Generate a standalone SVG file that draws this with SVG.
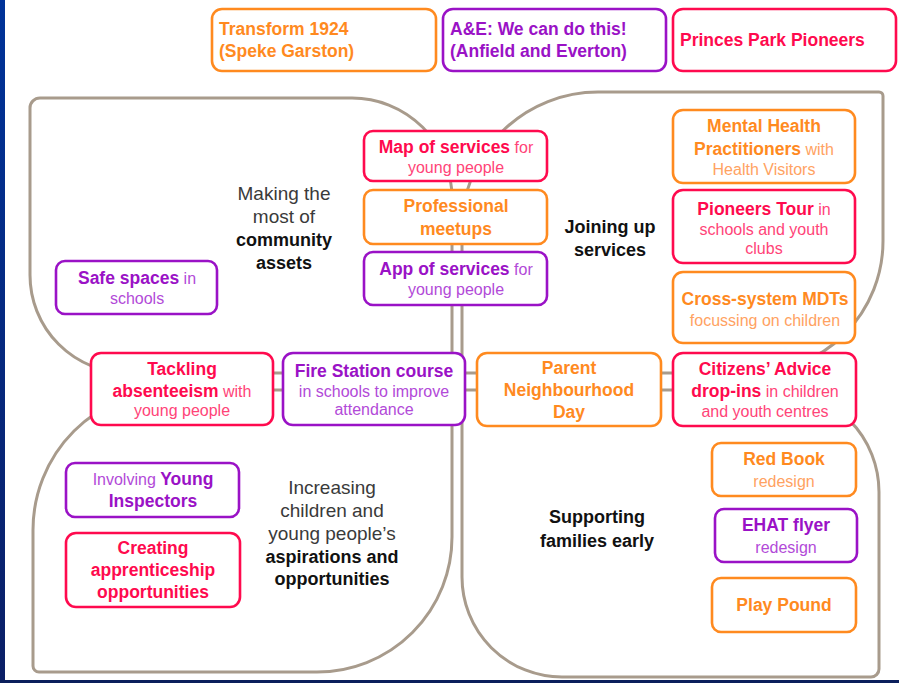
<svg xmlns="http://www.w3.org/2000/svg" width="899" height="683" viewBox="0 0 899 683">
<defs>
<linearGradient id="blueBar" x1="0" y1="0" x2="0" y2="1">
<stop offset="0" stop-color="#003399"/>
<stop offset="1" stop-color="#0b1f66"/>
</linearGradient>
</defs>
<style>
text{font-family:"Liberation Sans",Arial,sans-serif;}
.quad{fill:#ffffff;stroke:#a89b8c;stroke-width:3;}
.box{fill:#ffffff;stroke-width:2.6;}
.bo{stroke:#ff8a1f;} .br{stroke:#ff0a4e;} .bp{stroke:#9a12c6;}
.b{font-weight:bold;font-size:17.5px;}
.l{font-weight:normal;font-size:16px;}
.to{fill:#ff8a1f;} .tol{fill:#ffa262;}
.tr{fill:#ff0a4e;} .trl{fill:#ff4478;}
.tp{fill:#9a12c6;} .tpl{fill:#b24ad8;}
.c{text-anchor:middle;}
.lab{font-size:19px;fill:#3a3a3a;text-anchor:middle;}
.labb{font-size:18px;font-weight:bold;fill:#111111;text-anchor:middle;}
</style>
<rect x="0" y="0" width="899" height="683" fill="#ffffff"/>
<rect x="0" y="0" width="5" height="683" fill="url(#blueBar)"/>
<rect x="0" y="680" width="899" height="3" fill="#0b1f5c"/>

<g id="connectors">
<path id="quad-tl" class="quad" d="M 40 98 H 352 A 100 100 0 0 1 452 198 V 373 H 128 A 98 98 0 0 1 30 275 V 108 A 10 10 0 0 1 40 98 Z"/>
<path id="quad-tr" class="quad" d="M 598 92 H 879 A 4 4 0 0 1 883 96 V 241 A 132 132 0 0 1 751 373 H 462 V 228 A 136 136 0 0 1 598 92 Z"/>
<path id="quad-bl" class="quad" d="M 173 390 H 452 V 537 A 135 135 0 0 1 317 672 H 39 A 6 6 0 0 1 33 666 V 530 A 140 140 0 0 1 173 390 Z"/>
<path id="quad-br" class="quad" d="M 462 390 H 777 A 102 102 0 0 1 879 492 V 669 A 8 8 0 0 1 871 677 H 562 A 100 100 0 0 1 462 577 Z"/>
</g>

<g id="label-community">
<text class="lab" x="284" y="200">Making the</text>
<text class="lab" x="284" y="223">most of</text>
<text class="labb" x="284" y="246">community</text>
<text class="labb" x="284" y="269">assets</text>
</g>
<g id="label-joining">
<text class="labb" x="610" y="233">Joining up</text>
<text class="labb" x="610" y="256">services</text>
</g>
<g id="label-aspirations">
<text class="lab" x="332" y="494">Increasing</text>
<text class="lab" x="332" y="517">children and</text>
<text class="lab" x="332" y="540">young people’s</text>
<text class="labb" x="332" y="563">aspirations and</text>
<text class="labb" x="332" y="585">opportunities</text>
</g>
<g id="label-supporting">
<text class="labb" x="597" y="523">Supporting</text>
<text class="labb" x="597" y="547">families early</text>
</g>

<g id="transform-1924">
<rect class="box bo" x="212" y="9" width="224" height="62" rx="10"/>
<text class="b to" x="219" y="35">Transform 1924</text>
<text class="b to" x="219" y="57">(Speke Garston)</text>
</g>
<g id="ae-we-can-do-this">
<rect class="box bp" x="443" y="9" width="223" height="62" rx="10"/>
<text class="b tp" x="450" y="35">A&amp;E: We can do this!</text>
<text class="b tp" x="450" y="57">(Anfield and Everton)</text>
</g>
<g id="princes-park">
<rect class="box br" x="673" y="9" width="223" height="62" rx="10"/>
<text class="b tr" x="680" y="46">Princes Park Pioneers</text>
</g>

<g id="safe-spaces">
<rect class="box bp" x="56" y="261" width="161" height="53" rx="9"/>
<text class="c" x="137" y="284"><tspan class="b tp">Safe spaces</tspan><tspan class="l tpl"> in</tspan></text>
<text class="c l tpl" x="137" y="304">schools</text>
</g>

<g id="map-of-services">
<rect class="box br" x="364" y="131" width="183" height="50" rx="9"/>
<text class="c" x="456" y="153"><tspan class="b tr">Map of services</tspan><tspan class="l trl"> for</tspan></text>
<text class="c l trl" x="456" y="173">young people</text>
</g>
<g id="professional-meetups">
<rect class="box bo" x="364" y="190" width="183" height="54" rx="9"/>
<text class="c b to" x="456" y="212">Professional</text>
<text class="c b to" x="456" y="235">meetups</text>
</g>
<g id="app-of-services">
<rect class="box bp" x="364" y="252" width="183" height="53" rx="9"/>
<text class="c" x="456" y="275"><tspan class="b tp">App of services</tspan><tspan class="l tpl"> for</tspan></text>
<text class="c l tpl" x="456" y="295">young people</text>
</g>

<g id="mental-health">
<rect class="box bo" x="673" y="110" width="182" height="73" rx="10"/>
<text class="c b to" x="764" y="132">Mental Health</text>
<text class="c" x="764" y="155"><tspan class="b to">Practitioners</tspan><tspan class="l tol"> with</tspan></text>
<text class="c l tol" x="764" y="175">Health Visitors</text>
</g>
<g id="pioneers-tour">
<rect class="box br" x="673" y="190" width="182" height="73" rx="10"/>
<text class="c" x="764" y="215"><tspan class="b tr">Pioneers Tour</tspan><tspan class="l trl"> in</tspan></text>
<text class="c l trl" x="764" y="235">schools and youth</text>
<text class="c l trl" x="764" y="254">clubs</text>
</g>
<g id="cross-system">
<rect class="box bo" x="673" y="272" width="182" height="71" rx="10"/>
<text class="c b to" x="765" y="305">Cross-system MDTs</text>
<text class="c l tol" x="765" y="326">focussing on children</text>
</g>

<g id="tackling-absenteeism">
<rect class="box br" x="91" y="353" width="182" height="72" rx="10"/>
<text class="c b tr" x="182" y="375">Tackling</text>
<text class="c" x="182" y="397"><tspan class="b tr">absenteeism</tspan><tspan class="l trl"> with</tspan></text>
<text class="c l trl" x="182" y="416">young people</text>
</g>
<g id="fire-station">
<rect class="box bp" x="283" y="353" width="182" height="72" rx="10"/>
<text class="c b tp" x="374" y="377">Fire Station course</text>
<text class="c l tpl" x="374" y="397">in schools to improve</text>
<text class="c l tpl" x="374" y="415">attendance</text>
</g>
<g id="parent-neighbourhood-day">
<rect class="box bo" x="477" y="353" width="184" height="73" rx="10"/>
<text class="c b to" x="569" y="374">Parent</text>
<text class="c b to" x="569" y="396">Neighbourhood</text>
<text class="c b to" x="569" y="418">Day</text>
</g>
<g id="citizens-advice">
<rect class="box br" x="673" y="353" width="183" height="73" rx="10"/>
<text class="c b tr" x="765" y="375">Citizens’ Advice</text>
<text class="c" x="765" y="397"><tspan class="b tr">drop-ins</tspan><tspan class="l trl"> in children</tspan></text>
<text class="c l trl" x="765" y="417">and youth centres</text>
</g>

<g id="young-inspectors">
<rect class="box bp" x="66" y="463" width="173" height="54" rx="9"/>
<text class="c" x="153" y="485"><tspan class="l tpl">Involving </tspan><tspan class="b tp">Young</tspan></text>
<text class="c b tp" x="153" y="507">Inspectors</text>
</g>
<g id="apprenticeship">
<rect class="box br" x="66" y="533" width="174" height="74" rx="10"/>
<text class="c b tr" x="153" y="554">Creating</text>
<text class="c b tr" x="153" y="576">apprenticeship</text>
<text class="c b tr" x="153" y="598">opportunities</text>
</g>

<g id="red-book">
<rect class="box bo" x="712" y="443" width="144" height="53" rx="9"/>
<text class="c b to" x="784" y="465">Red Book</text>
<text class="c l tol" x="784" y="487">redesign</text>
</g>
<g id="ehat-flyer">
<rect class="box bp" x="715" y="509" width="142" height="53" rx="9"/>
<text class="c b tp" x="786" y="531">EHAT flyer</text>
<text class="c l tpl" x="786" y="553">redesign</text>
</g>
<g id="play-pound">
<rect class="box bo" x="712" y="578" width="144" height="54" rx="9"/>
<text class="c b to" x="784" y="611">Play Pound</text>
</g>
</svg>
